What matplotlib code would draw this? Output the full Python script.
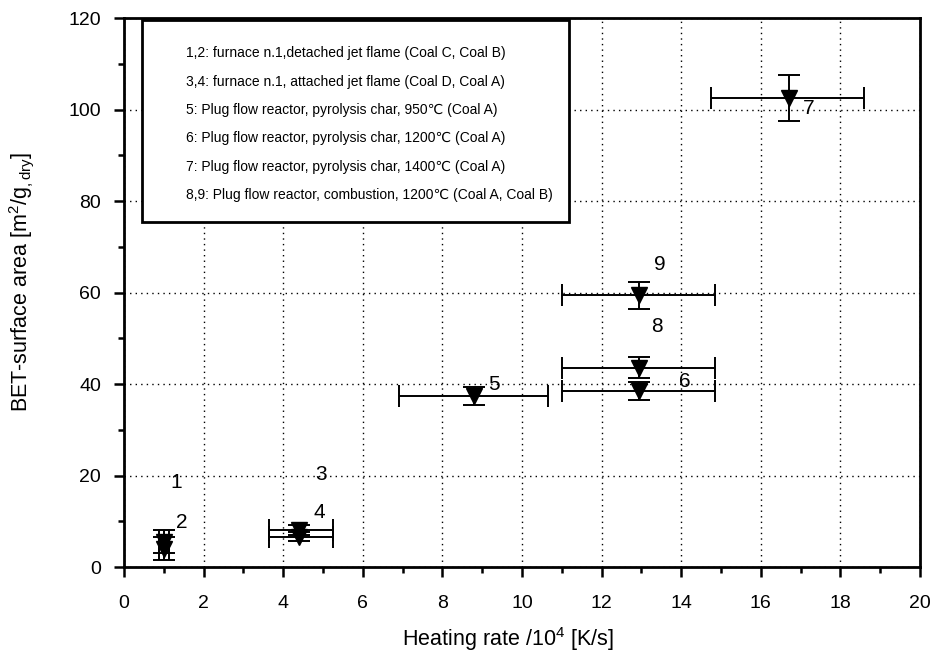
import matplotlib
matplotlib.use("Agg")
import matplotlib.pyplot as plt
from matplotlib.ticker import MultipleLocator

plt.rcParams['font.family'] = ['Liberation Sans', 'DejaVu Sans']
plt.rcParams['mathtext.fontset'] = 'custom'
plt.rcParams['mathtext.rm'] = 'Liberation Sans'
plt.rcParams['mathtext.it'] = 'Liberation Sans'

# Heating rate (10^4 K/s) and BET surface area (m2/g) for each char sample
point_ids = ['1', '2', '3', '4', '5', '6', '7', '8', '9']
heating_rate = [1.0, 1.0, 4.4, 4.4, 8.8, 12.95, 16.7, 12.95, 12.95]
heating_err_lo = [0.12, 0.12, 0.75, 0.75, 1.9, 1.95, 1.95, 1.95, 1.95]
heating_err_hi = [0.12, 0.12, 0.85, 0.85, 1.85, 1.9, 1.9, 1.9, 1.9]
bet_area = [4.0, 5.5, 6.6, 8.1, 37.4, 38.5, 102.5, 43.6, 59.4]
bet_err = [2.5, 2.5, 1.0, 1.0, 1.9, 2.0, 5.0, 2.3, 3.0]

# Where each point number is written
label_x = [1.3, 1.45, 4.95, 4.9, 9.3, 14.1, 17.2, 13.4, 13.45]
label_y = [18.4, 9.8, 20.3, 12.0, 40.0, 40.6, 100.3, 52.5, 66.2]

legend_lines = [
    "1,2: furnace n.1,detached jet flame (Coal C, Coal B)",
    "3,4: furnace n.1, attached jet flame (Coal D, Coal A)",
    "5: Plug flow reactor, pyrolysis char, 950\u2103 (Coal A)",
    "6: Plug flow reactor, pyrolysis char, 1200\u2103 (Coal A)",
    "7: Plug flow reactor, pyrolysis char, 1400\u2103 (Coal A)",
    "8,9: Plug flow reactor, combustion, 1200\u2103 (Coal A, Coal B)",
]

fig = plt.figure(figsize=(9.31, 6.62), dpi=100)
ax = fig.add_axes([0.1332, 0.1435, 0.855, 0.829])

ax.errorbar(heating_rate, bet_area,
            xerr=[heating_err_lo, heating_err_hi], yerr=bet_err,
            fmt='v', color='black', markersize=12, ecolor='black',
            elinewidth=1.4, capsize=8, capthick=1.4, zorder=3)

for t, x, y in zip(point_ids, label_x, label_y):
    ax.text(x, y, t, fontsize=15, ha='center', va='center', zorder=4)

ax.set_xlim(0, 20)
ax.set_ylim(0, 120)
ax.xaxis.set_major_locator(MultipleLocator(2))
ax.xaxis.set_minor_locator(MultipleLocator(1))
ax.yaxis.set_major_locator(MultipleLocator(20))
ax.yaxis.set_minor_locator(MultipleLocator(10))
ax.tick_params(which='both', direction='out', width=1.8)
ax.tick_params(which='major', length=7.5)
ax.tick_params(which='minor', length=4.3)
ax.tick_params(axis='x', which='major', labelsize=14, pad=13)
ax.tick_params(axis='y', which='major', labelsize=14, pad=9)
for s in ax.spines.values():
    s.set_linewidth(2.0)

ax.grid(True, which='major', linestyle=(0, (1, 3)), color='black', linewidth=1.0)
ax.set_axisbelow(True)

ax.set_xlabel("Heating rate /10$^4$ [K/s]", fontsize=15.5)
ax.xaxis.label.set_verticalalignment('center')
ax.xaxis.set_label_coords(0.482, -0.132)
ax.set_ylabel("BET-surface area [m$^2$/g$_{,dry}$]", fontsize=15.5)
ax.yaxis.label.set_verticalalignment('center')
ax.yaxis.set_label_coords(-0.129, 0.519)

# Boxed legend of sample descriptions
box = plt.Rectangle((0.45, 75.4), 10.73, 44.2, transform=ax.transData,
                    facecolor='white', edgecolor='black', linewidth=2.0, zorder=5)
ax.add_patch(box)
legend_y = [112.35, 106.0, 99.9, 93.8, 87.4, 81.3]
for line, y in zip(legend_lines, legend_y):
    ax.text(1.56, y, line, fontsize=10, ha='left', va='center', zorder=6)

fig.savefig("out.png", dpi=100)
